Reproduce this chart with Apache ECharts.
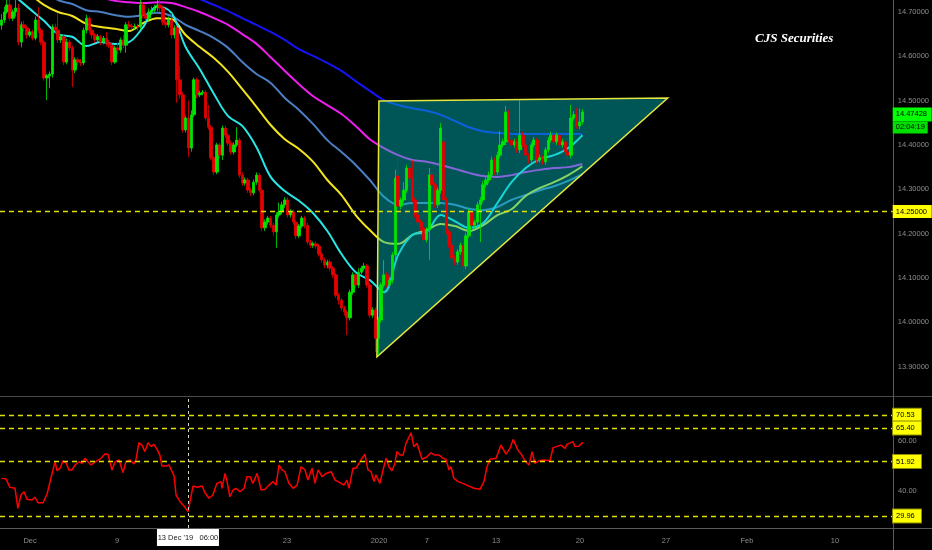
<!DOCTYPE html>
<html><head><meta charset="utf-8">
<script src="https://cdn.jsdelivr.net/npm/echarts@6/dist/echarts.min.js"></script>
<style>html,body{margin:0;padding:0;background:#000;}#c{width:932px;height:550px;}</style>
</head><body><div id="c"></div>
<script>
// ---- time slots (4H bars) ----
const slotCount = 315;
const tickIdx = [10.1, 40.8, 100.7, 133.2, 150.1, 174.5, 204.1, 234.4, 263.0, 294.0];
const tickLabels = ['Dec', '9', '23', '2020', '7', '13', '20', '27', 'Feb', '10'];
const crossIdx = 65.8;
const crossLabel = "13 Dec '19   06:00";

// ---- OHLC ----
const open = [14.670,14.682,14.700,14.716,14.686,14.700,14.709,14.632,14.671,14.664,
14.648,14.655,14.641,14.682,14.659,14.632,14.551,14.556,14.560,14.666,
14.659,14.637,14.644,14.587,14.632,14.619,14.569,14.592,14.587,14.585,
14.659,14.686,14.659,14.648,14.637,14.644,14.632,14.641,14.630,14.625,
14.587,14.619,14.614,14.637,14.625,14.671,14.668,14.666,14.668,14.666,
14.716,14.693,14.686,14.700,14.704,14.709,14.716,14.709,14.677,14.671,
14.682,14.648,14.664,14.547,14.513,14.434,14.461,14.393,14.468,14.547,
14.513,14.517,14.519,14.461,14.440,14.371,14.339,14.400,14.377,14.438,
14.422,14.404,14.384,14.400,14.411,14.332,14.314,14.321,14.298,14.292,
14.316,14.332,14.298,14.213,14.226,14.235,14.219,14.204,14.242,14.249,
14.265,14.276,14.242,14.249,14.226,14.195,14.217,14.235,14.219,14.181,
14.174,14.177,14.172,14.154,14.141,14.129,14.136,14.122,14.107,14.061,
14.050,14.032,14.023,14.010,14.068,14.107,14.084,14.113,14.122,14.127,
14.084,14.016,14.028,13.964,14.005,14.084,14.107,14.084,14.095,14.152,
14.330,14.262,14.276,14.298,14.348,14.325,14.276,14.242,14.226,14.213,
14.186,14.208,14.332,14.310,14.265,14.298,14.407,14.276,14.204,14.174,
14.145,14.136,14.159,14.174,14.127,14.195,14.249,14.219,14.226,14.265,
14.276,14.310,14.321,14.332,14.366,14.339,14.377,14.400,14.407,14.474,
14.411,14.400,14.407,14.389,14.422,14.400,14.377,14.366,14.400,14.411,
14.366,14.371,14.362,14.389,14.411,14.422,14.407,14.422,14.400,14.407,
14.384,14.377,14.461,14.468,14.443,14.452];
const close = [14.682,14.700,14.716,14.686,14.700,14.709,14.632,14.671,14.664,14.648,
14.655,14.641,14.682,14.659,14.632,14.551,14.556,14.560,14.666,14.659,
14.637,14.644,14.587,14.632,14.619,14.569,14.592,14.587,14.585,14.659,
14.686,14.659,14.648,14.637,14.644,14.632,14.641,14.630,14.625,14.587,
14.619,14.614,14.637,14.625,14.671,14.668,14.666,14.668,14.666,14.716,
14.693,14.686,14.700,14.704,14.709,14.716,14.709,14.677,14.671,14.682,
14.648,14.664,14.547,14.513,14.434,14.461,14.393,14.468,14.547,14.513,
14.517,14.519,14.461,14.440,14.371,14.339,14.400,14.377,14.438,14.422,
14.404,14.384,14.400,14.411,14.332,14.314,14.321,14.298,14.292,14.316,
14.332,14.298,14.213,14.226,14.235,14.219,14.204,14.242,14.249,14.265,
14.276,14.242,14.249,14.226,14.195,14.217,14.235,14.219,14.181,14.174,
14.177,14.172,14.154,14.141,14.129,14.136,14.122,14.107,14.061,14.050,
14.032,14.023,14.010,14.068,14.107,14.084,14.113,14.122,14.127,14.084,
14.016,14.028,13.964,14.005,14.084,14.107,14.084,14.095,14.152,14.325,
14.262,14.276,14.298,14.348,14.325,14.276,14.242,14.226,14.213,14.186,
14.208,14.332,14.310,14.265,14.298,14.438,14.276,14.204,14.174,14.145,
14.136,14.159,14.174,14.127,14.195,14.249,14.219,14.226,14.265,14.276,
14.310,14.321,14.332,14.366,14.339,14.377,14.400,14.407,14.474,14.411,
14.400,14.407,14.389,14.422,14.400,14.377,14.366,14.400,14.411,14.366,
14.371,14.362,14.389,14.411,14.422,14.407,14.422,14.400,14.407,14.384,
14.377,14.461,14.468,14.443,14.452,14.47428];
const low = [14.660,14.675,14.695,14.680,14.680,14.690,14.625,14.620,14.655,14.640,
14.643,14.636,14.636,14.652,14.625,14.545,14.501,14.528,14.552,14.650,
14.630,14.630,14.580,14.582,14.612,14.531,14.562,14.580,14.578,14.580,
14.652,14.652,14.640,14.630,14.632,14.625,14.627,14.622,14.618,14.580,
14.583,14.606,14.608,14.618,14.608,14.662,14.660,14.660,14.658,14.660,
14.686,14.680,14.680,14.694,14.698,14.702,14.700,14.670,14.664,14.665,
14.640,14.640,14.495,14.505,14.428,14.428,14.373,14.385,14.462,14.505,
14.508,14.512,14.455,14.434,14.365,14.332,14.334,14.370,14.366,14.415,
14.398,14.378,14.378,14.395,14.326,14.308,14.308,14.292,14.285,14.287,
14.310,14.292,14.206,14.206,14.220,14.212,14.196,14.168,14.236,14.244,
14.258,14.236,14.236,14.220,14.188,14.190,14.212,14.212,14.175,14.168,
14.168,14.166,14.148,14.135,14.122,14.122,14.115,14.100,14.055,14.040,
14.025,14.015,13.971,14.004,14.062,14.078,14.078,14.108,14.116,14.078,
14.010,14.010,13.933,13.926,13.998,14.078,14.078,14.078,14.088,14.140,
14.256,14.255,14.270,14.292,14.318,14.270,14.236,14.220,14.206,14.180,
14.180,14.141,14.304,14.258,14.258,14.290,14.270,14.198,14.168,14.139,
14.128,14.130,14.152,14.113,14.120,14.190,14.212,14.212,14.220,14.181,
14.270,14.304,14.314,14.326,14.332,14.332,14.370,14.394,14.400,14.405,
14.394,14.394,14.382,14.382,14.394,14.370,14.358,14.360,14.394,14.358,
14.360,14.355,14.356,14.383,14.405,14.400,14.400,14.394,14.394,14.378,
14.360,14.370,14.455,14.436,14.436,14.446];
const high = [14.695,14.712,14.727,14.730,14.706,14.727,14.718,14.678,14.680,14.670,
14.662,14.660,14.690,14.711,14.664,14.637,14.560,14.566,14.672,14.674,
14.697,14.650,14.650,14.640,14.637,14.624,14.598,14.597,14.594,14.665,
14.694,14.690,14.664,14.653,14.650,14.648,14.646,14.655,14.637,14.630,
14.624,14.630,14.642,14.648,14.677,14.680,14.674,14.674,14.673,14.727,
14.722,14.700,14.708,14.712,14.716,14.727,14.732,14.714,14.684,14.690,
14.697,14.670,14.668,14.580,14.520,14.466,14.500,14.478,14.552,14.552,
14.522,14.524,14.524,14.490,14.445,14.376,14.405,14.405,14.444,14.444,
14.428,14.410,14.406,14.440,14.416,14.338,14.327,14.326,14.304,14.322,
14.338,14.337,14.303,14.232,14.240,14.240,14.224,14.248,14.270,14.272,
14.282,14.282,14.255,14.254,14.231,14.222,14.240,14.240,14.224,14.186,
14.182,14.182,14.177,14.159,14.146,14.141,14.141,14.127,14.112,14.066,
14.055,14.037,14.028,14.074,14.113,14.112,14.122,14.127,14.134,14.132,
14.089,14.034,14.033,14.012,14.090,14.140,14.113,14.102,14.158,14.344,
14.371,14.282,14.316,14.355,14.355,14.366,14.282,14.250,14.232,14.218,
14.214,14.348,14.338,14.316,14.304,14.449,14.416,14.282,14.210,14.180,
14.152,14.165,14.180,14.180,14.202,14.256,14.254,14.232,14.272,14.283,
14.318,14.328,14.340,14.374,14.372,14.384,14.432,14.414,14.488,14.480,
14.417,14.414,14.414,14.501,14.430,14.405,14.382,14.406,14.418,14.416,
14.378,14.377,14.395,14.418,14.430,14.430,14.428,14.428,14.414,14.412,
14.390,14.490,14.476,14.484,14.482,14.481];

// ---- moving averages, sampled every 5 bars ----
const maIdx = [0,5,10,15,20,25,30,35,40,45,50,55,60,65,70,75,80,85,90,95,100,105,110,115,120,125,130,135,140,145,150,155,160,165,170,175,180,185,190,195,200,205];
const maCyan = [14.761,14.734,14.707,14.680,14.650,14.644,14.623,14.632,14.628,14.632,14.666,14.713,14.698,14.621,14.571,14.515,14.465,14.443,14.395,14.328,14.296,14.274,14.246,14.206,14.154,14.113,14.095,14.068,14.152,14.197,14.204,14.242,14.228,14.213,14.224,14.269,14.316,14.348,14.368,14.377,14.393,14.422];
const maYellow = [null,14.768,14.741,14.716,14.700,14.691,14.673,14.666,14.662,14.657,14.675,14.686,14.684,14.648,14.621,14.596,14.565,14.526,14.486,14.445,14.413,14.391,14.362,14.321,14.287,14.242,14.208,14.181,14.177,14.197,14.208,14.222,14.217,14.206,14.219,14.242,14.255,14.285,14.303,14.316,14.332,14.352];
const maSteel = [null,null,null,14.750,14.727,14.718,14.704,14.700,14.693,14.689,14.693,14.698,14.691,14.671,14.657,14.641,14.619,14.587,14.560,14.540,14.506,14.479,14.447,14.411,14.384,14.355,14.321,14.283,14.265,14.269,14.269,14.269,14.265,14.256,14.253,14.260,14.276,14.287,14.298,14.307,14.319,14.334];
const maMagenta = [null,null,null,null,null,null,null,14.734,14.725,14.722,14.720,14.722,14.720,14.711,14.700,14.686,14.671,14.650,14.628,14.598,14.567,14.537,14.510,14.490,14.470,14.443,14.413,14.393,14.377,14.366,14.362,14.355,14.346,14.337,14.330,14.328,14.332,14.339,14.344,14.348,14.350,14.357];
const maBlue = [null,null,null,null,null,null,null,null,null,null,null,null,14.756,14.743,14.729,14.716,14.702,14.686,14.671,14.655,14.637,14.616,14.601,14.585,14.567,14.544,14.522,14.501,14.490,14.483,14.477,14.468,14.454,14.440,14.431,14.427,14.425,14.425,14.425,14.425,14.425,14.425];

// ---- triangle drawing ----
const triIdx = [133.2, 235.1, 132.5];
const triPrice = [14.499, 14.506, 13.922];
const priceLevel = 14.25;
const countdown = '02:04:19';
const priceTicks = [13.9,14.0,14.1,14.2,14.3,14.4,14.5,14.6,14.7];

// ---- RSI ----
const rsiIdx = [0,1.6,3.0,4.8,5.8,6.9,8.0,9.0,10.8,11.8,12.9,14.7,16.1,16.8,18.9,19.6,20.7,21.7,22.8,23.8,24.9,26.0,27.4,28.4,29.5,30.5,31.6,32.7,33.7,35.1,36.5,37.6,39.0,40.1,41.5,42.9,43.9,45.4,46.8,47.5,48.5,49.6,50.6,51.7,52.8,53.8,54.9,55.9,56.6,58.1,59.1,60.9,61.6,63.0,64.4,65.8,67.6,69.0,70.8,71.8,73.2,74.6,76.0,77.5,77.8,78.9,79.6,80.6,81.7,82.7,84.2,85.6,86.6,87.7,88.7,90.2,91.6,93.0,94.4,95.8,96.9,97.9,99.0,100.0,101.4,102.9,104.3,105.7,107.1,108.1,109.6,110.6,111.7,113.1,114.5,116.3,117.7,119.4,120.8,121.9,122.6,124.0,125.1,126.8,128.2,129.3,130.4,131.4,132.1,133.5,134.6,135.7,136.7,137.8,138.8,139.5,140.6,141.7,142.7,144.5,145.5,146.6,148.4,150.1,151.5,152.9,154.4,155.8,156.8,157.9,158.6,159.6,161.1,162.8,164.9,166.7,168.8,170.2,171.3,172.3,174.5,176.2,178.0,179.4,180.5,182.2,183.6,184.7,186.1,187.2,188.2,189.6,191.4,193.5,194.6,196.3,197.4,198.8,199.5,200.2,201.6,202.3,203.7,205.1];
const rsiVal = [45.1,44.9,41.5,41.1,33.0,38.4,39.7,36.7,36.4,37.5,35.3,35.3,38.8,39.1,51.8,48.2,49.2,52.1,51.4,48.5,48.5,50.5,51.8,51.2,53.2,51.8,50.5,51.4,52.2,53.2,54.9,54.8,48.5,51.8,52.5,47.4,51.8,52.5,50.9,52.8,59.5,58.5,55.9,59.5,57.9,58.8,56.8,54.5,50.1,50.1,50.5,46.1,38.4,35.7,34.0,31.7,42.0,41.5,42.0,39.3,37.1,38.4,43.1,43.8,41.1,47.1,43.8,37.7,40.4,41.1,39.7,41.1,45.8,45.8,43.1,47.1,40.4,40.7,42.4,43.8,42.4,50.5,48.5,47.8,43.1,41.1,42.4,49.8,48.5,44.4,49.2,43.1,48.5,45.8,47.1,47.8,44.4,43.4,42.4,44.4,41.1,49.2,49.2,52.5,54.9,48.5,47.8,43.8,46.5,43.1,48.5,53.2,49.8,48.2,51.2,55.9,54.5,54.5,59.2,63.5,57.9,59.2,52.8,53.8,55.4,54.5,54.5,53.2,52.8,48.5,49.8,45.1,43.8,43.1,42.0,41.1,40.7,43.8,49.8,52.8,53.2,58.5,54.9,57.2,60.8,56.5,54.5,52.1,50.5,55.9,51.2,52.2,52.5,52.2,57.5,58.1,58.5,57.2,58.8,58.1,59.9,57.9,58.1,59.6];
const rsiLevels = [70.53, 65.40, 51.92, 29.96];
const rsiTicks = [40, 60];

// ---- build ----
const cats = Array.from({length: slotCount}, (_, i) => String(i));
const candles = open.map((o, k) => [o, close[k], low[k], high[k]]);
const pairs = (vals) => maIdx.map((x, k) => [x, vals[k]]);
const lastPrice = close[close.length - 1];
const labelFont = {fontFamily: 'Liberation Sans, Arial, sans-serif', fontSize: 7.5};

function maSeries(name, vals, color, extra) {
  return Object.assign({
    name, type: 'line', xAxisIndex: 1, yAxisIndex: 0, data: pairs(vals),
    showSymbol: false, smooth: 0.35, clip: true, z: 2, silent: true,
    lineStyle: {color, width: 2}
  }, extra || {});
}

const chart = echarts.init(document.getElementById('c'), null, {renderer: 'canvas'});
chart.setOption({
  backgroundColor: '#000000',
  animation: false,
  title: {
    text: 'CJS Securities', left: 750, top: 27,
    textStyle: {color: '#ffffff', fontFamily: 'Liberation Serif, DejaVu Serif, serif', fontStyle: 'italic', fontWeight: 'bold', fontSize: 13}
  },
  grid: [
    {left: 0, right: 39, top: 0, height: 395},
    {left: 0, right: 39, top: 397, height: 131}
  ],
  xAxis: [
    {type: 'category', gridIndex: 0, data: cats, boundaryGap: true,
     axisLine: {show: false}, axisTick: {show: false}, axisLabel: {show: false}, splitLine: {show: false}},
    {type: 'value', gridIndex: 0, min: -0.5, max: slotCount - 0.5, show: false},
    {type: 'value', gridIndex: 1, min: -0.5, max: slotCount - 0.5, position: 'bottom',
     axisLine: {show: false}, splitLine: {show: false}, axisTick: {show: false},
     axisLabel: Object.assign({customValues: tickIdx, color: '#8c8c8c', margin: 9,
       formatter: (v) => { const k = tickIdx.indexOf(v); return k >= 0 ? tickLabels[k] : ''; }}, labelFont)}
  ],
  yAxis: [
    {type: 'value', gridIndex: 0, position: 'right', min: 13.836, max: 14.727, scale: true,
     axisLine: {show: false}, splitLine: {show: false}, axisTick: {show: false},
     axisLabel: Object.assign({customValues: priceTicks, color: '#8c8c8c', margin: 5,
       formatter: (v) => v.toFixed(5)}, labelFont)},
    {type: 'value', gridIndex: 1, position: 'right', min: 25.1, max: 77.9,
     axisLine: {show: false}, splitLine: {show: false}, axisTick: {show: false},
     axisLabel: Object.assign({customValues: rsiTicks, color: '#8c8c8c', margin: 5,
       formatter: (v) => v.toFixed(2)}, labelFont)}
  ],
  graphic: [
    {type: 'line', silent: true, z: 0, shape: {x1: 0, y1: 396.5, x2: 932, y2: 396.5}, style: {stroke: '#4a4a4a', lineWidth: 1}},
    {type: 'line', silent: true, z: 0, shape: {x1: 0, y1: 528.5, x2: 932, y2: 528.5}, style: {stroke: '#5a5a5a', lineWidth: 1}},
    {type: 'line', silent: true, z: 0, shape: {x1: 893.5, y1: 0, x2: 893.5, y2: 550}, style: {stroke: '#5a5a5a', lineWidth: 1}}
  ],
  series: [
    maSeries('Blue', maBlue, '#1414f5'),
    maSeries('Magenta', maMagenta, '#ee1eee'),
    maSeries('Steel', maSteel, '#4a7fc4'),
    maSeries('Yellow', maYellow, '#f2e41e'),
    maSeries('Cyan', maCyan, '#28e6e6', {
      markLine: {
        silent: true, symbol: 'none',
        lineStyle: {color: '#e0e000', type: [5, 4], width: 1.3},
        label: Object.assign({position: 'end', distance: 0, formatter: (p) => p.value.toFixed(5),
          backgroundColor: '#ffff00', color: '#000', padding: [3, 3, 2, 3], width: 33}, labelFont),
        data: [{yAxis: priceLevel}]
      }
    }),
    {
      name: 'Triangle', type: 'custom', xAxisIndex: 1, yAxisIndex: 0, z: 3, silent: true,
      data: triIdx.map((x, k) => [x, triPrice[k]]),
      renderItem: (params, api) => {
        if (params.dataIndex !== 0) return null;
        const pts = triIdx.map((x, k) => api.coord([x, triPrice[k]]));
        return {type: 'polygon', shape: {points: pts},
          style: {fill: 'rgba(0,190,190,0.45)', stroke: '#e6e63c', lineWidth: 1.5}};
      }
    },
    {
      name: 'Price', type: 'candlestick', xAxisIndex: 0, yAxisIndex: 0, z: 4, silent: true,
      data: candles, barWidth: 3,
      itemStyle: {color: '#00e600', color0: '#e60000', borderColor: '#00e600', borderColor0: '#e60000', borderWidth: 0.8},
      markLine: {
        silent: true, symbol: 'none',
        lineStyle: {color: 'transparent', width: 0},
        label: {position: 'end', distance: 0,
          formatter: () => '{s|}\n{a|' + lastPrice.toFixed(5) + '}\n{b|' + countdown + '}',
          rich: {
            s: {height: 13},
            a: Object.assign({backgroundColor: '#00ff00', color: '#000', height: 14, width: 33, padding: [0, 3]}, labelFont),
            b: Object.assign({backgroundColor: '#00e000', color: '#000', height: 12, width: 29, padding: [0, 3]}, labelFont)
          }},
        data: [{yAxis: lastPrice}]
      }
    },
    {
      name: 'RSI', type: 'line', xAxisIndex: 2, yAxisIndex: 1, silent: true,
      data: rsiIdx.map((x, k) => [x, rsiVal[k]]),
      showSymbol: false, z: 3, lineStyle: {color: '#ff0000', width: 1.5},
      markLine: {
        silent: true, symbol: 'none',
        lineStyle: {color: '#e0e000', type: [5, 4], width: 1.3},
        data: rsiLevels.map((v) => ({
          yAxis: v,
          label: Object.assign({show: true, position: 'end', distance: 0, formatter: (p) => p.value.toFixed(2),
            backgroundColor: '#ffff00', color: '#000', padding: [3, 3, 2, 3], width: 22,
            borderColor: '#8a8a00', borderWidth: 1}, labelFont)
        })).concat([{
          xAxis: crossIdx,
          lineStyle: {color: '#d2d6c0', type: [3, 3], width: 1},
          label: Object.assign({show: true, position: 'start', distance: 1, formatter: () => crossLabel,
            backgroundColor: '#ffffff', color: '#222222', padding: [5, 5, 4, 5], width: 52, align: 'center'}, labelFont)
        }])
      }
    }
  ]
});
</script>
</body></html>
